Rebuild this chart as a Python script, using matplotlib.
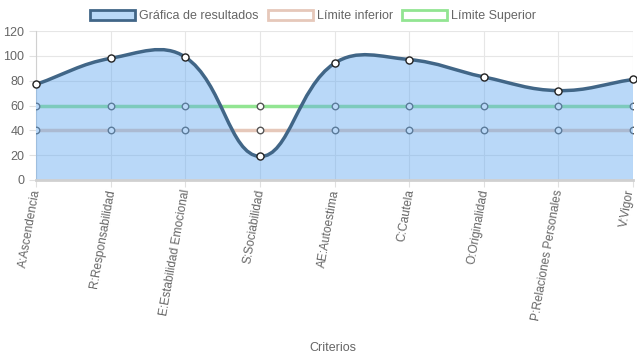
import numpy as np
import matplotlib
matplotlib.use('Agg')
import matplotlib.pyplot as plt
import matplotlib.transforms as mtrans
from matplotlib.path import Path
from matplotlib.patches import PathPatch, Patch

plt.rcParams['font.family'] = ['Liberation Sans', 'DejaVu Sans']

# data
criterios = ['A:Ascendencia', 'R:Responsabilidad', 'E:Estabilidad Emocional',
             'S:Sociabilidad', 'AE:Autoestima', 'C:Cautela', 'O:Originalidad',
             'P:Relaciones Personales', 'V:Vigor']
resultados = [77, 98, 99, 19, 94, 97, 83, 72, 81]
limite_inferior = [40, 40, 40, 40, 40, 40, 40, 40, 40]
limite_superior = [60, 60, 60, 60, 60, 60, 60, 60, 60]

colResult = '#416687'
colFill = (100/255, 170/255, 240/255, 0.45)
colInf = '#e6c8ba'
colSup = '#92e592'


def splinePath(xs, ys, sx, sy, tension=0.4):
    # chart.js style bezier, computed in pixel-like units
    px = np.array(xs, float) * sx
    py = np.array(ys, float) * sy
    n = len(px)
    verts = [(px[0], py[0])]
    codes = [Path.MOVETO]
    cpIn = [None] * n
    cpOut = [None] * n
    for i in range(n):
        p0 = i - 1 if i > 0 else i
        p2 = i + 1 if i < n - 1 else i
        d01 = np.hypot(px[i] - px[p0], py[i] - py[p0])
        d12 = np.hypot(px[p2] - px[i], py[p2] - py[i])
        tot = d01 + d12
        s01 = d01 / tot if tot else 0
        s12 = d12 / tot if tot else 0
        fa = tension * s01
        fb = tension * s12
        dx = px[p2] - px[p0]
        dy = py[p2] - py[p0]
        cpIn[i] = (px[i] - fa * dx, py[i] - fa * dy)
        cpOut[i] = (px[i] + fb * dx, py[i] + fb * dy)
    for i in range(1, n):
        verts += [cpOut[i - 1], cpIn[i], (px[i], py[i])]
        codes += [Path.CURVE4] * 3
    verts = [(vx / sx, vy / sy) for vx, vy in verts]
    return verts, codes


fig = plt.figure(figsize=(6.37, 3.59), dpi=100)
left, right, top, bottom = 36, 633, 31, 180
ax = fig.add_axes([left/637, (359-bottom)/359, (right-left)/637, (bottom-top)/359])

x = np.arange(len(criterios))
sx, sy = (right - left) / 8.0, (bottom - top) / 120.0

# limit lines
ax.plot(x, limite_inferior, color=colInf, lw=2.5, zorder=2)
ax.plot(x, limite_superior, color=colSup, lw=2.5, zorder=2)
ax.scatter(x, limite_inferior, s=22, facecolor='white', edgecolor='#555555', lw=1, zorder=3)
ax.scatter(x, limite_superior, s=22, facecolor='white', edgecolor='#555555', lw=1, zorder=3)

# results curve with fill
verts, codes = splinePath(x, resultados, sx, sy)
fillVerts = verts + [(x[-1], 0), (x[0], 0), verts[0]]
fillCodes = codes + [Path.LINETO, Path.LINETO, Path.CLOSEPOLY]
ax.add_patch(PathPatch(Path(fillVerts, fillCodes), facecolor=colFill, edgecolor='none', zorder=4))
ax.add_patch(PathPatch(Path(verts, codes), facecolor='none', edgecolor=colResult, lw=2.5, zorder=5))
ax.scatter(x, resultados, s=26, facecolor='white', edgecolor='#222222', lw=1, zorder=6, clip_on=False)

ax.set_xlim(0, len(criterios) - 1)
ax.set_ylim(0, 120)
ax.set_yticks(np.arange(0, 121, 20))
ax.set_xticks(x)
ax.set_xticklabels(criterios, rotation=80, ha='right', va='center', rotation_mode='anchor')
ax.tick_params(axis='both', colors='#666666', labelsize=9, length=5, width=0.8, color='#e0e0e0')
ax.tick_params(axis='x', pad=2, labelsize=8.6)
xlabs = ax.get_xticklabels()
for i, lab in enumerate(xlabs):
    dx = 1 if i < len(xlabs) - 1 else -2
    lab.set_transform(lab.get_transform() + mtrans.ScaledTranslation(dx/100, 0, fig.dpi_scale_trans))
ax.grid(True, color='#e6e6e6', lw=0.8, zorder=0)
ax.set_axisbelow(True)
for sp in ['top', 'right']:
    ax.spines[sp].set_visible(False)
ax.spines['left'].set_color('#d0d0d0')
ax.spines['bottom'].set_color('#d0d0d0')
ax.spines['bottom'].set_linewidth(2)
ax.spines['bottom'].set_zorder(7)

fig.text(333/637, 1 - 348/359, 'Criterios', ha='center', va='center', fontsize=9, color='#666666')

handles = [Patch(facecolor='#b9d9f7', edgecolor=colResult, lw=2),
           Patch(facecolor='white', edgecolor=colInf, lw=2),
           Patch(facecolor='white', edgecolor=colSup, lw=2)]
labels = ['Gráfica de resultados', 'Límite inferior', 'Límite Superior']
fig.legend(handles, labels, loc='center', bbox_to_anchor=(313/637, 1 - 16/359), ncol=3,
           frameon=False, fontsize=9, labelcolor='#666666', handlelength=3.6,
           handleheight=0.9, columnspacing=0.7, handletextpad=0.35)

plt.savefig('out.png', dpi=100)
